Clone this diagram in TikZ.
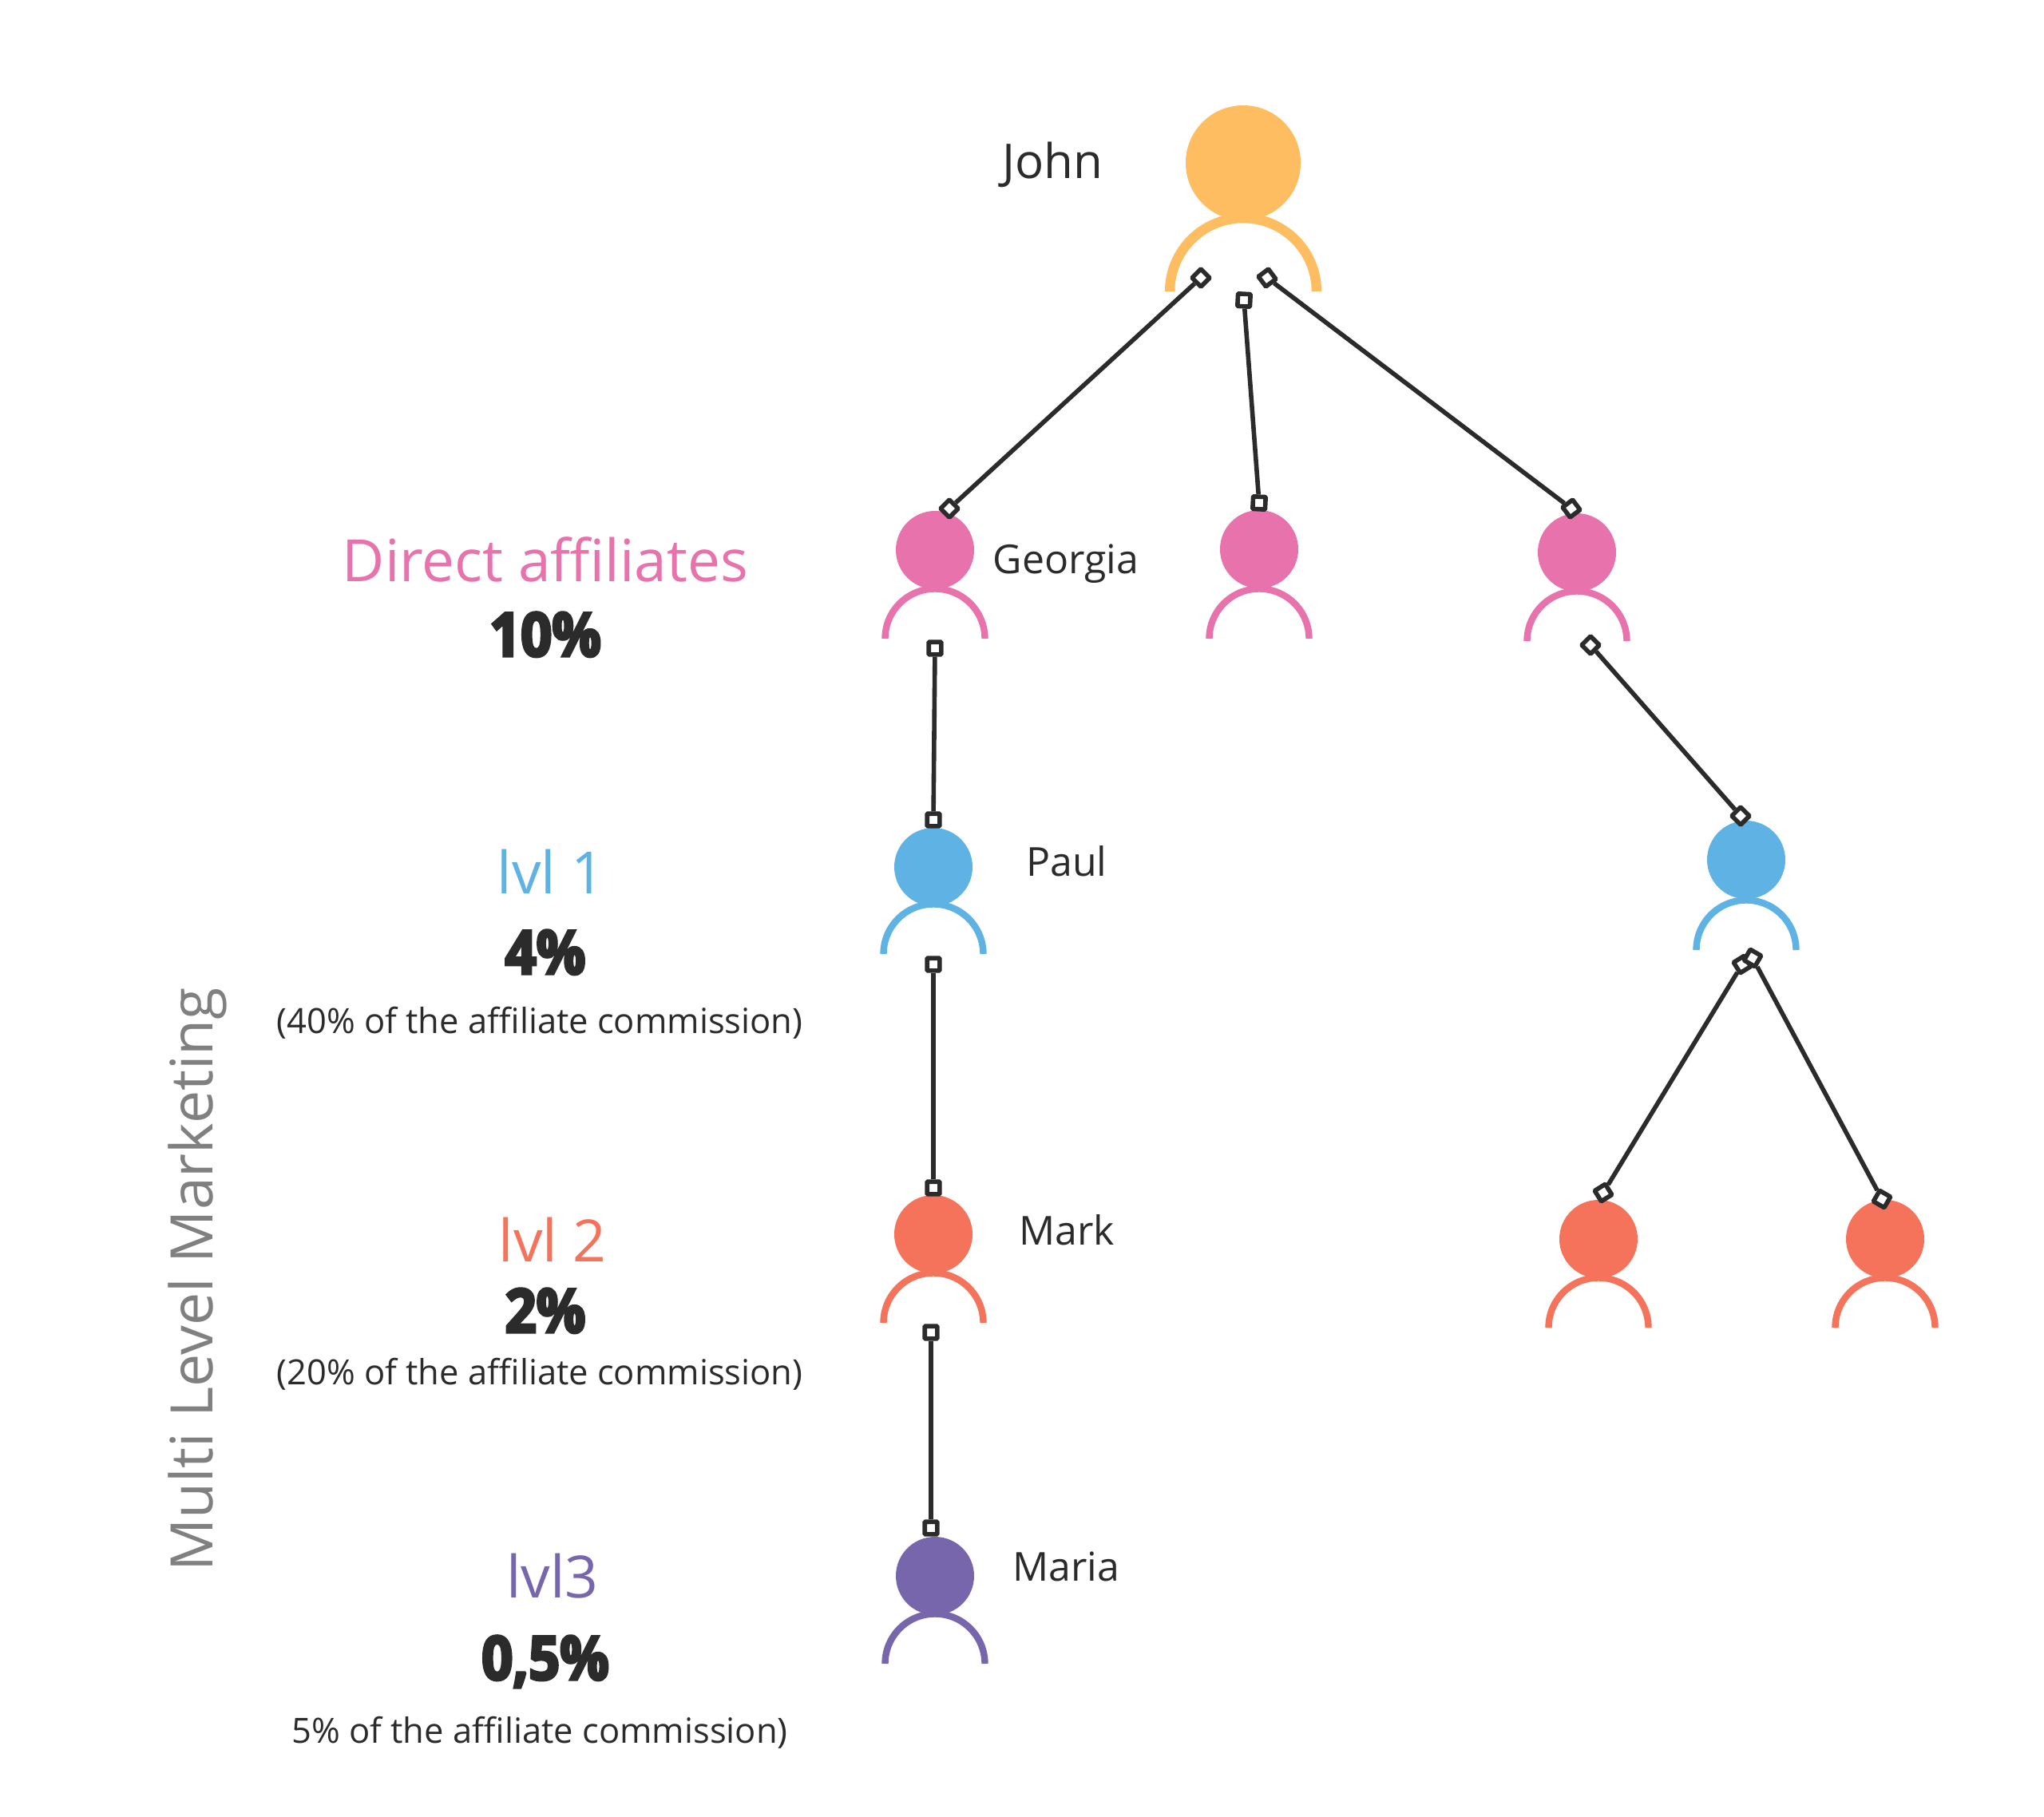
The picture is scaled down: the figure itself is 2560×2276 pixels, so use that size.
\documentclass[tikz,border=0pt]{standalone}
\usepackage{fontspec}
\setmainfont{Open Sans}
\newfontfamily\heavyfont[FakeStretch=0.9,FakeBold=4.5]{Open Sans Bold}
\definecolor{cOrange}{HTML}{FEBD60}
\definecolor{cPink}{HTML}{E872AC}
\definecolor{cBlue}{HTML}{5FB2E4}
\definecolor{cRed}{HTML}{F4735A}
\definecolor{cPurple}{HTML}{7866AD}
\definecolor{cDark}{HTML}{2B2B2B}
\definecolor{cGrey}{HTML}{808080}
\tikzset{
  handle/.style={draw=cDark,fill=white,line width=2.8pt,minimum size=7.8pt,inner sep=0pt,rounded corners=0.5pt,shape=rectangle},
  conn/.style={draw=cDark,line width=2.8pt},
  name label/.style={text=cDark,anchor=base,inner sep=0pt,font=\fontsize{#1}{#1}\selectfont},
  level label/.style n args={2}{text=#1,anchor=base,inner sep=0pt,font=\fontsize{#2}{#2}\selectfont},
  pct/.style={text=cDark,anchor=base,inner sep=0pt,font=\heavyfont\fontsize{#1}{#1}\selectfont},
  note/.style={text=cDark,anchor=base,inner sep=0pt,font=\fontsize{21.75}{21.75}\selectfont},
}
% name, x, y of head, bottom y of shoulders, colour, radius scale
\newcommand{\personfig}[6]{%
  \node[circle,fill=#5,inner sep=0pt,minimum size={#6*49pt}] (#1) at (#2,#3) {};
  \draw[#5,line width={#6*4.2pt}] (#2-#6*62.5,#4) arc[start angle=180,end angle=0,radius={#6*62.5*0.5pt}];
}
\begin{document}
\begin{tikzpicture}[x=0.5pt,y=-0.5pt]
\useasboundingbox (0,0) rectangle (2560,2276);
\fill[white] (0,0) rectangle (2560,2276);
% people
\personfig{john}{1557}{204}{365}{cOrange}{1.47}
\personfig{georgia}{1171}{689}{800}{cPink}{1}
\personfig{pinkb}{1577}{688}{800}{cPink}{1}
\personfig{pinkc}{1975}{692}{803}{cPink}{1}
\personfig{paul}{1169}{1086}{1195}{cBlue}{1}
\personfig{blueb}{2187}{1077}{1190}{cBlue}{1}
\personfig{mark}{1169}{1546}{1657}{cRed}{1}
\personfig{redb}{2002}{1552}{1663}{cRed}{1}
\personfig{redc}{2361}{1552}{1663}{cRed}{1}
\personfig{maria}{1171}{1974}{2084}{cPurple}{1}
% connectors
\node[handle,rotate=45] (a1) at (1504,348) {};
\node[handle,rotate=45] (a2) at (1189,637) {};
\node[handle,rotate=-3] (b1) at (1558,376) {};
\node[handle,rotate=-3] (b2) at (1577,630) {};
\node[handle,rotate=37] (c1) at (1587,348) {};
\node[handle,rotate=37] (c2) at (1968,637) {};
\node[handle] (d1) at (1171,812) {};
\node[handle] (d2) at (1169,1027) {};
\node[handle] (e1) at (1169,1208) {};
\node[handle] (e2) at (1169,1488) {};
\node[handle] (f1) at (1166,1669) {};
\node[handle] (f2) at (1166,1914) {};
\node[handle,rotate=45] (g1) at (1992,808) {};
\node[handle,rotate=45] (g2) at (2180,1022) {};
\node[handle,rotate=32] (h1) at (2182,1208) {};
\node[handle,rotate=32] (h2) at (2008,1494) {};
\node[handle,rotate=-30] (i1) at (2195,1200) {};
\node[handle,rotate=-30] (i2) at (2357,1502) {};
\draw[conn] (a1) -- (a2);
\draw[conn] (b1) -- (b2);
\draw[conn] (c1) -- (c2);
\draw[conn] (d1) -- (d2);
\draw[conn] (e1) -- (e2);
\draw[conn] (f1) -- (f2);
\draw[conn] (g1) -- (g2);
\draw[conn] (h1) -- (h2);
\draw[conn] (i1) -- (i2);
% names
\node[name label=30] (tjohn) at (1318,223) {John};
\node[name label=25] (tgeorgia) at (1335,718) {Georgia};
\node[name label=25] (tpaul) at (1336,1097) {Paul};
\node[name label=25] (tmark) at (1336,1559) {Mark};
\node[name label=25] (tmaria) at (1335,1980) {Maria};
% levels
\node[level label={cPink}{36.5}] (l0) at (683,728) {Direct affiliates};
\node[pct=38] (p0) at (683,822) {10\%};
\node[level label={cBlue}{36.5}] (l1) at (690,1119) {lvl 1};
\node[pct=38] (p1) at (683,1220) {4\%};
\node[note] (n1) at (676,1294) {(40\% of the affiliate commission)};
\node[level label={cRed}{36.5}] (l2) at (692,1580) {lvl 2};
\node[pct=38] (p2) at (683,1669) {2\%};
\node[note] (n2) at (676,1734) {(20\% of the affiliate commission)};
\node[level label={cPurple}{36.5}] (l3) at (692,2001) {lvl3};
\node[pct=38] (p3) at (683,2104) {0,5\%};
\node[note] (n3) at (676,2183) {5\% of the affiliate commission)};
\node[text=cGrey,anchor=base,inner sep=0pt,rotate=90,font=\fontsize{36.7}{36.7}\selectfont] (side) at (266,1603) {Multi Level Marketing};
\end{tikzpicture}
\end{document}
